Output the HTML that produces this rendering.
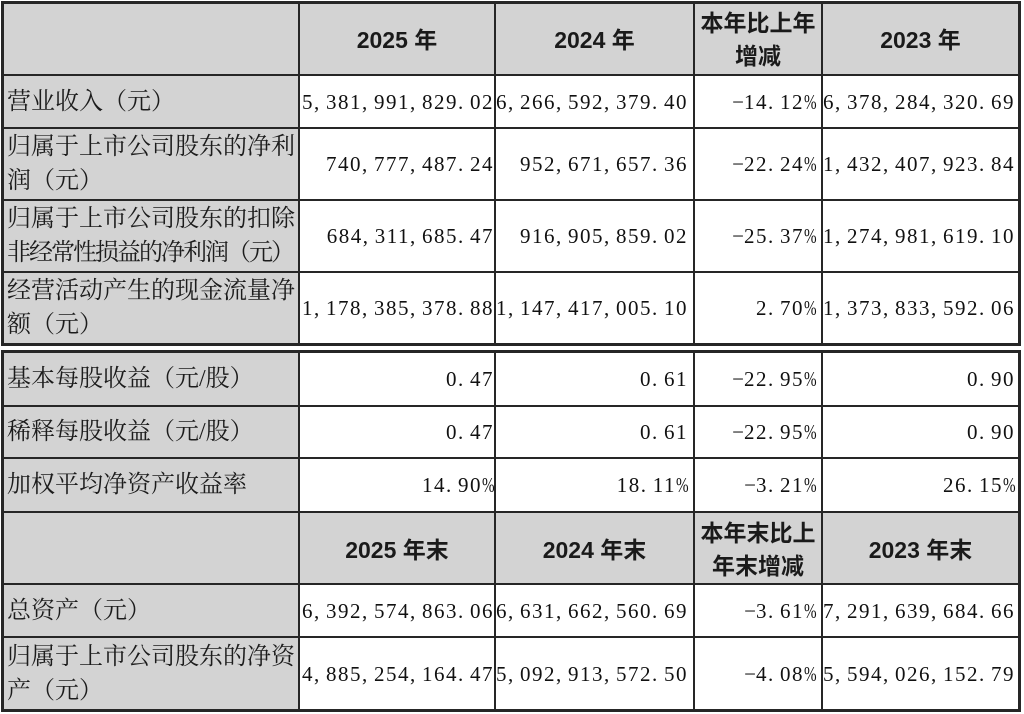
<!DOCTYPE html>
<html>
<head>
<meta charset="utf-8">
<style>
html,body{margin:0;padding:0;background:#fff;}
body{width:1024px;height:714px;position:relative;overflow:hidden;}
.bg{position:absolute;background:#d3d3d3;}
.l{position:absolute;background:#262626;}
.t{position:absolute;white-space:nowrap;}
.lab{left:7px;width:292px;font-family:"Liberation Serif","Noto Serif CJK SC",serif;font-size:24px;line-height:34px;color:#1c1c1c;}
.n{font-family:"Liberation Serif","Noto Serif CJK SC",serif;font-size:21px;letter-spacing:1.5px;line-height:30px;height:30px;text-align:right;color:#111;}
.n i{display:inline-block;width:12px;font-style:normal;letter-spacing:0;text-align:left;}
.n i.m{text-align:center;}
.n i.p{transform:scaleX(0.72);transform-origin:0 50%;}
.c2{left:300px;width:194px;}
.c3{left:496px;width:192px;}
.c4{left:695px;width:121px;}
.c5{left:823px;width:192px;}
.h{font-family:"Liberation Sans","Noto Sans CJK SC",sans-serif;font-weight:bold;font-size:23px;line-height:30px;height:30px;text-align:center;color:#1a1a1a;}
.h2{left:300px;width:194px;}
.h3{left:496px;width:197px;}
.h4{left:695px;width:126px;line-height:33px;height:66px;}
.h5{left:823px;width:195px;}
</style>
</head>
<body>
<!-- backgrounds -->
<div class="bg" style="left:3px;top:3px;width:1016px;height:72px;"></div>
<div class="bg" style="left:3px;top:75px;width:296px;height:269px;"></div>
<div class="bg" style="left:3px;top:352px;width:296px;height:358px;"></div>
<div class="bg" style="left:3px;top:511px;width:1016px;height:73px;"></div>

<!-- table 1 lines -->
<div class="l" style="left:1px;top:1px;width:1020px;height:3px;"></div>
<div class="l" style="left:1px;top:343px;width:1020px;height:3px;"></div>
<div class="l" style="left:1px;top:1px;width:3px;height:345px;"></div>
<div class="l" style="left:1018px;top:1px;width:3px;height:345px;"></div>
<div class="l" style="left:3px;top:74px;width:1016px;height:2px;"></div>
<div class="l" style="left:3px;top:127px;width:1016px;height:2px;"></div>
<div class="l" style="left:3px;top:199px;width:1016px;height:2px;"></div>
<div class="l" style="left:3px;top:271px;width:1016px;height:2px;"></div>
<div class="l" style="left:298px;top:3px;width:2px;height:341px;"></div>
<div class="l" style="left:494px;top:3px;width:2px;height:341px;"></div>
<div class="l" style="left:693px;top:3px;width:2px;height:341px;"></div>
<div class="l" style="left:821px;top:3px;width:2px;height:341px;"></div>

<!-- table 2 lines -->
<div class="l" style="left:1px;top:350px;width:1020px;height:3px;"></div>
<div class="l" style="left:1px;top:709px;width:1020px;height:3px;"></div>
<div class="l" style="left:1px;top:350px;width:3px;height:362px;"></div>
<div class="l" style="left:1018px;top:350px;width:3px;height:362px;"></div>
<div class="l" style="left:3px;top:405px;width:1016px;height:2px;"></div>
<div class="l" style="left:3px;top:457px;width:1016px;height:2px;"></div>
<div class="l" style="left:3px;top:511px;width:1016px;height:2px;"></div>
<div class="l" style="left:3px;top:583px;width:1016px;height:2px;"></div>
<div class="l" style="left:3px;top:636px;width:1016px;height:2px;"></div>
<div class="l" style="left:298px;top:352px;width:2px;height:358px;"></div>
<div class="l" style="left:494px;top:352px;width:2px;height:358px;"></div>
<div class="l" style="left:693px;top:352px;width:2px;height:358px;"></div>
<div class="l" style="left:821px;top:352px;width:2px;height:358px;"></div>

<!-- header 1 -->
<div class="t h h2" style="top:25px;">2025 年</div>
<div class="t h h3" style="top:25px;">2024 年</div>
<div class="t h h4" style="top:7px;">本年比上年<br>增减</div>
<div class="t h h5" style="top:25px;">2023 年</div>

<!-- row 1 -->
<div class="t lab" style="top:84.5px;">营业收入（元）</div>
<div class="t n c2" style="top:86.5px;">5<i>,</i>381<i>,</i>991<i>,</i>829<i>.</i>02</div>
<div class="t n c3" style="top:86.5px;">6<i>,</i>266<i>,</i>592<i>,</i>379<i>.</i>40</div>
<div class="t n c4" style="top:86.5px;"><i class="m">−</i>14<i>.</i>12<i class="p">%</i></div>
<div class="t n c5" style="top:86.5px;">6<i>,</i>378<i>,</i>284<i>,</i>320<i>.</i>69</div>

<!-- row 2 -->
<div class="t lab" style="top:130px;">归属于上市公司股东的净利<br>润（元）</div>
<div class="t n c2" style="top:149px;">740<i>,</i>777<i>,</i>487<i>.</i>24</div>
<div class="t n c3" style="top:149px;">952<i>,</i>671<i>,</i>657<i>.</i>36</div>
<div class="t n c4" style="top:149px;"><i class="m">−</i>22<i>.</i>24<i class="p">%</i></div>
<div class="t n c5" style="top:149px;">1<i>,</i>432<i>,</i>407<i>,</i>923<i>.</i>84</div>

<!-- row 3 -->
<div class="t lab" style="top:202px;">归属于上市公司股东的扣除<br><span style="letter-spacing:-2px;">非经常性损益的净利润（元）</span></div>
<div class="t n c2" style="top:221px;">684<i>,</i>311<i>,</i>685<i>.</i>47</div>
<div class="t n c3" style="top:221px;">916<i>,</i>905<i>,</i>859<i>.</i>02</div>
<div class="t n c4" style="top:221px;"><i class="m">−</i>25<i>.</i>37<i class="p">%</i></div>
<div class="t n c5" style="top:221px;">1<i>,</i>274<i>,</i>981<i>,</i>619<i>.</i>10</div>

<!-- row 4 -->
<div class="t lab" style="top:274px;">经营活动产生的现金流量净<br>额（元）</div>
<div class="t n c2" style="top:293px;">1<i>,</i>178<i>,</i>385<i>,</i>378<i>.</i>88</div>
<div class="t n c3" style="top:293px;">1<i>,</i>147<i>,</i>417<i>,</i>005<i>.</i>10</div>
<div class="t n c4" style="top:293px;">2<i>.</i>70<i class="p">%</i></div>
<div class="t n c5" style="top:293px;">1<i>,</i>373<i>,</i>833<i>,</i>592<i>.</i>06</div>

<!-- row 5 -->
<div class="t lab" style="top:362px;">基本每股收益（元/股）</div>
<div class="t n c2" style="top:364px;">0<i>.</i>47</div>
<div class="t n c3" style="top:364px;">0<i>.</i>61</div>
<div class="t n c4" style="top:364px;"><i class="m">−</i>22<i>.</i>95<i class="p">%</i></div>
<div class="t n c5" style="top:364px;">0<i>.</i>90</div>

<!-- row 6 -->
<div class="t lab" style="top:415px;">稀释每股收益（元/股）</div>
<div class="t n c2" style="top:417px;">0<i>.</i>47</div>
<div class="t n c3" style="top:417px;">0<i>.</i>61</div>
<div class="t n c4" style="top:417px;"><i class="m">−</i>22<i>.</i>95<i class="p">%</i></div>
<div class="t n c5" style="top:417px;">0<i>.</i>90</div>

<!-- row 7 -->
<div class="t lab" style="top:468px;">加权平均净资产收益率</div>
<div class="t n c2" style="top:470px;">14<i>.</i>90<i class="p">%</i></div>
<div class="t n c3" style="top:470px;">18<i>.</i>11<i class="p">%</i></div>
<div class="t n c4" style="top:470px;"><i class="m">−</i>3<i>.</i>21<i class="p">%</i></div>
<div class="t n c5" style="top:470px;">26<i>.</i>15<i class="p">%</i></div>

<!-- header 2 -->
<div class="t h h2" style="top:535px;">2025 年末</div>
<div class="t h h3" style="top:535px;">2024 年末</div>
<div class="t h h4" style="top:517px;">本年末比上<br>年末增减</div>
<div class="t h h5" style="top:535px;">2023 年末</div>

<!-- row 9 -->
<div class="t lab" style="top:593.5px;">总资产（元）</div>
<div class="t n c2" style="top:595.5px;">6<i>,</i>392<i>,</i>574<i>,</i>863<i>.</i>06</div>
<div class="t n c3" style="top:595.5px;">6<i>,</i>631<i>,</i>662<i>,</i>560<i>.</i>69</div>
<div class="t n c4" style="top:595.5px;"><i class="m">−</i>3<i>.</i>61<i class="p">%</i></div>
<div class="t n c5" style="top:595.5px;">7<i>,</i>291<i>,</i>639<i>,</i>684<i>.</i>66</div>

<!-- row 10 -->
<div class="t lab" style="top:639.5px;">归属于上市公司股东的净资<br>产（元）</div>
<div class="t n c2" style="top:658.5px;">4<i>,</i>885<i>,</i>254<i>,</i>164<i>.</i>47</div>
<div class="t n c3" style="top:658.5px;">5<i>,</i>092<i>,</i>913<i>,</i>572<i>.</i>50</div>
<div class="t n c4" style="top:658.5px;"><i class="m">−</i>4<i>.</i>08<i class="p">%</i></div>
<div class="t n c5" style="top:658.5px;">5<i>,</i>594<i>,</i>026<i>,</i>152<i>.</i>79</div>
</body>
</html>
